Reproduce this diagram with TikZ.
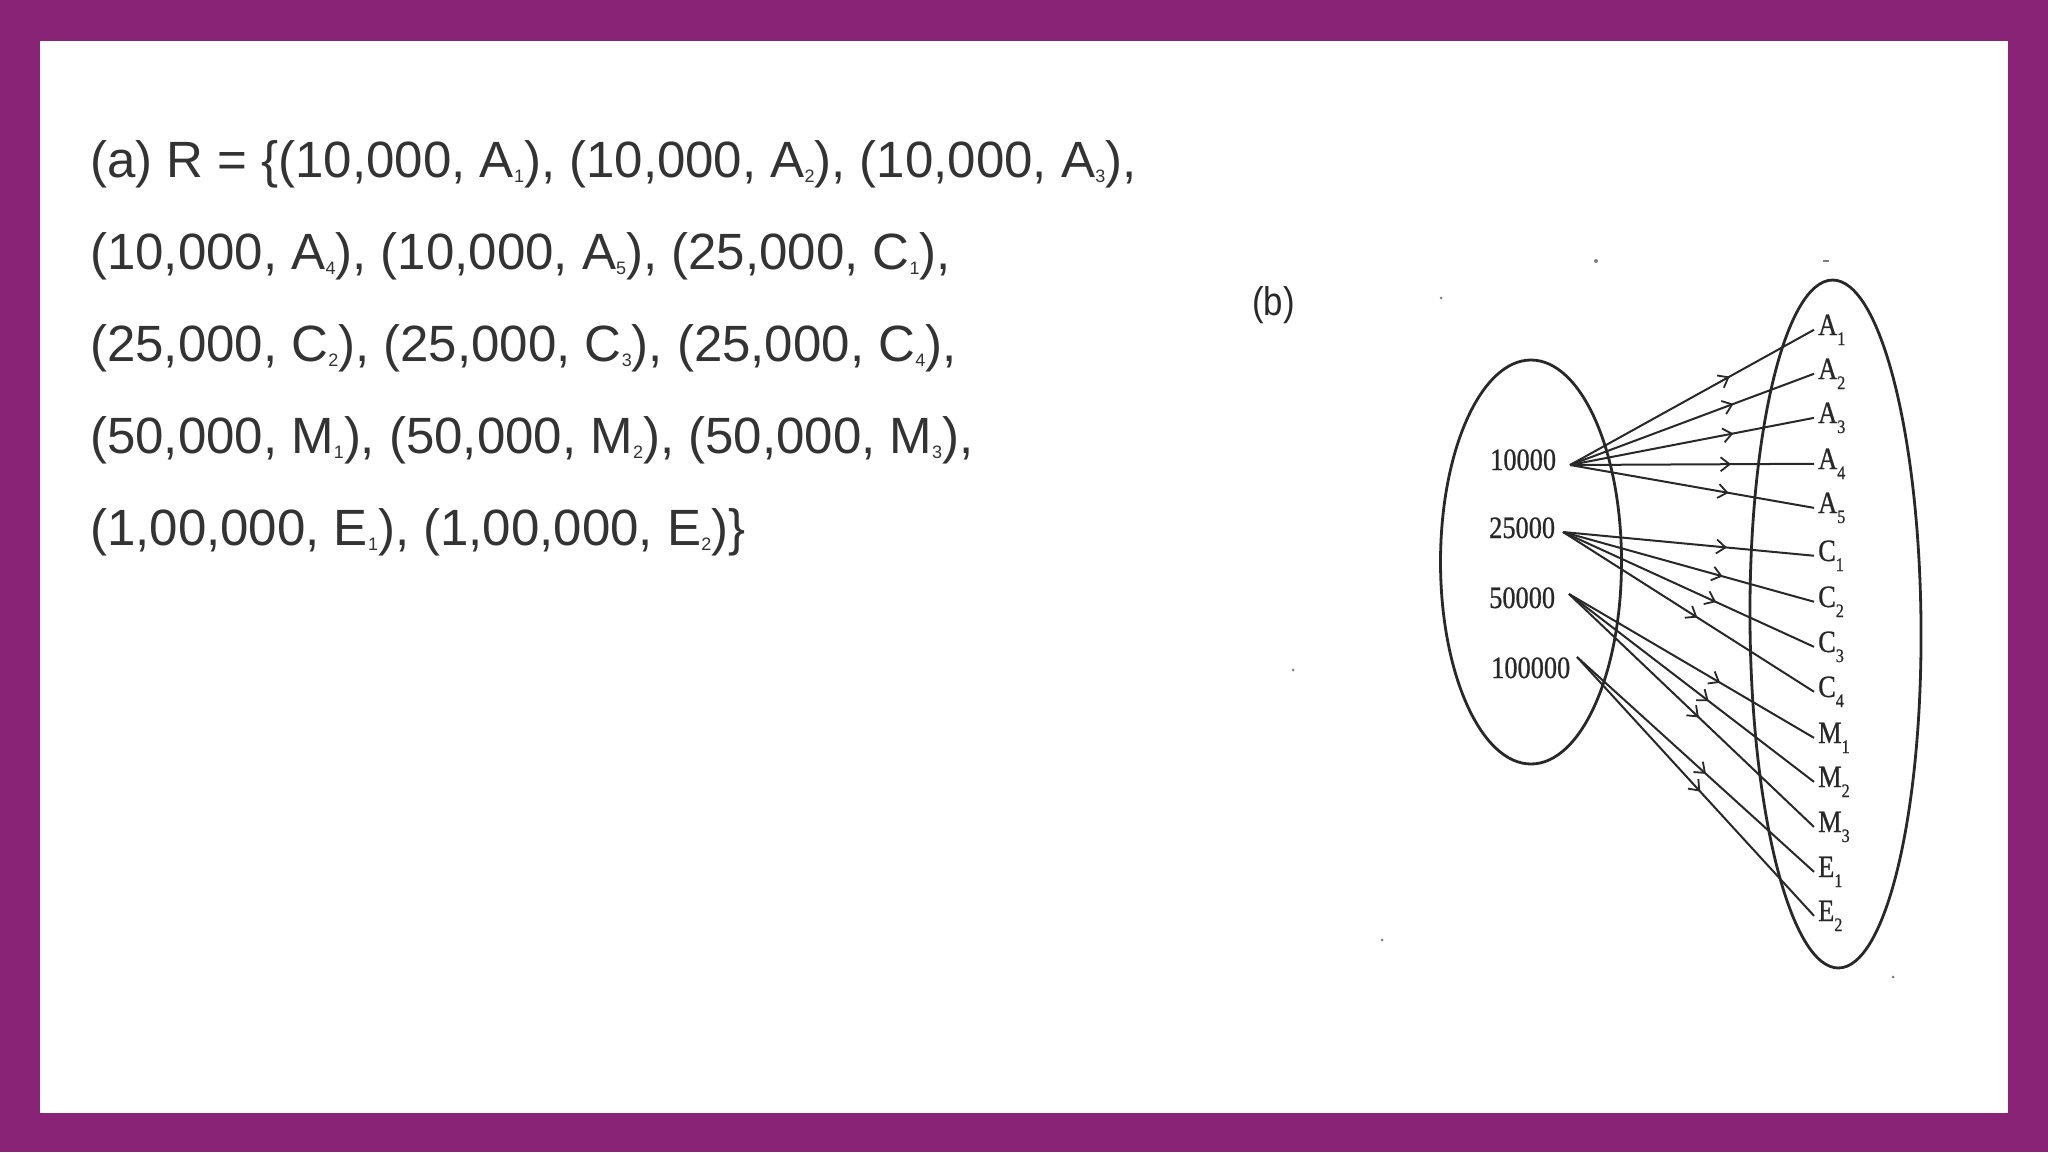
\documentclass[tikz,border=0pt]{standalone}
\usepackage{fontspec}
\setmainfont{Liberation Sans}
\newfontfamily\bookfont[FakeStretch=0.85,FakeBold=0.8]{Liberation Serif}
\newfontfamily\blabfont[FakeStretch=0.87]{Liberation Sans}
\usetikzlibrary{arrows.meta,decorations.markings}
\definecolor{framepurple}{RGB}{136,35,118}
\definecolor{ink}{RGB}{51,51,51}
\definecolor{scanink}{RGB}{40,40,40}
\newcommand{\ssub}[1]{{\fontsize{18}{18}\selectfont\raisebox{-5pt}{#1}}}
\newcommand{\bsub}[1]{{\fontsize{19}{19}\selectfont\raisebox{-10pt}{#1}}}
\tikzset{
  mainline/.style={anchor=base west, inner sep=0pt, text=ink, font=\fontsize{51}{60}\selectfont},
  srclabel/.style={anchor=base west, inner sep=0pt, text=scanink, font=\bookfont\fontsize{31}{31}\selectfont},
  tgtlabel/.style={anchor=base west, inner xsep=4pt, inner ysep=0pt, text=scanink, font=\bookfont\fontsize{31}{31}\selectfont},
  setoval/.style={draw=scanink, line width=2.8pt},
  pairline/.style={draw=scanink, line width=2pt, decoration={markings, mark=at position #1 with {\arrow[scanink, line width=1.8pt]{Straight Barb[length=9pt,width=14pt]}}}, postaction=decorate},
  speck/.style={fill=scanink!60}
}
\begin{document}
\begin{tikzpicture}[x=1pt,y=-1pt]
\fill[framepurple] (0,0) rectangle (2048,1152);
\fill[white] (40,41) rectangle (2008,1113);
\useasboundingbox (0,0) rectangle (2048,1152);

% (a) text
\node[mainline] (l1) at (90,177) {(a) R = \{(10,000, A\ssub{1}), (10,000, A\ssub{2}), (10,000, A\ssub{3}),};
\node[mainline] (l2) at (90,269) {(10,000, A\ssub{4}), (10,000, A\ssub{5}), (25,000, C\ssub{1}),};
\node[mainline] (l3) at (90,361) {(25,000, C\ssub{2}), (25,000, C\ssub{3}), (25,000, C\ssub{4}),};
\node[mainline] (l4) at (90,453) {(50,000, M\ssub{1}), (50,000, M\ssub{2}), (50,000, M\ssub{3}),};
\node[mainline] (l5) at (90,545) {(1,00,000, E\ssub{1}), (1,00,000, E\ssub{2})\}};

% (b) label
\node[anchor=base west, inner sep=0pt, text=scanink, font=\blabfont\fontsize{40}{40}\selectfont] (blab) at (1252,315) {(b)};

% ovals
\draw[setoval] (1531,562) ellipse [x radius=90.5, y radius=202];
\draw[setoval, rotate around={0.5:(1835.5,624)}] (1835.5,624) ellipse [x radius=85.5, y radius=344];

% source labels
\node[srclabel] (n1) at (1490,470) {10000};
\node[srclabel] (n2) at (1489,538) {25000};
\node[srclabel] (n3) at (1489,608) {50000};
\node[srclabel] (n4) at (1491,678) {100000};
\coordinate (s1) at (1570,465);
\coordinate (s2) at (1563,532);
\coordinate (s3) at (1569,594);
\coordinate (s4) at (1577,657);

% target labels
\node[tgtlabel] (a1) at (1814,335) {A\bsub{1}};
\node[tgtlabel] (a2) at (1814,379) {A\bsub{2}};
\node[tgtlabel] (a3) at (1814,423) {A\bsub{3}};
\node[tgtlabel] (a4) at (1814,469) {A\bsub{4}};
\node[tgtlabel] (a5) at (1814,513) {A\bsub{5}};
\node[tgtlabel] (c1) at (1814,561) {C\bsub{1}};
\node[tgtlabel] (c2) at (1814,607) {C\bsub{2}};
\node[tgtlabel] (c3) at (1814,652) {C\bsub{3}};
\node[tgtlabel] (c4) at (1814,697) {C\bsub{4}};
\node[tgtlabel] (m1) at (1814,743) {M\bsub{1}};
\node[tgtlabel] (m2) at (1814,787) {M\bsub{2}};
\node[tgtlabel] (m3) at (1814,832) {M\bsub{3}};
\node[tgtlabel] (e1) at (1814,877) {E\bsub{1}};
\node[tgtlabel] (e2) at (1814,921) {E\bsub{2}};

% connectors
\draw[pairline=0.654] (s1) -- (a1.west);
\draw[pairline=0.67] (s1) -- (a2.west);
\draw[pairline=0.67] (s1) -- (a3.west);
\draw[pairline=0.66] (s1) -- (a4.west);
\draw[pairline=0.65] (s1) -- (a5.west);
\draw[pairline=0.653] (s2) -- (c1.west);
\draw[pairline=0.636] (s2) -- (c2.west);
\draw[pairline=0.61] (s2) -- (c3.west);
\draw[pairline=0.535] (s2) -- (c4.west);
\draw[pairline=0.617] (s3) -- (m1.west);
\draw[pairline=0.57] (s3) -- (m2.west);
\draw[pairline=0.53] (s3) -- (m3.west);
\draw[pairline=0.544] (s4) -- (e1.west);
\draw[pairline=0.52] (s4) -- (e2.west);

% scan specks
\fill[speck] (1596,261) circle (2);
\fill[speck] (1823,260) rectangle (1829,262);
\fill[speck] (1441,298) circle (1.5);
\fill[speck] (1293,670) circle (1.5);
\fill[speck] (1382,940) circle (1.5);
\fill[speck] (1893,977) circle (1.5);
\end{tikzpicture}
\end{document}
